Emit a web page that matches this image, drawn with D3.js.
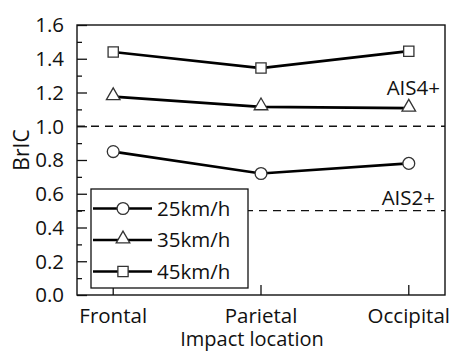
<!DOCTYPE html>
<html>
<head>
<meta charset="utf-8">
<script src="https://cdn.jsdelivr.net/npm/d3@7"></script>
<style>
	body { margin: 0; background: #fff; }
	svg { display: block; font-family: "Open Sans", "Noto Sans", sans-serif; }
</style>
</head>
<body>
<svg width="455" height="352"></svg>
<script>
var locations = ["Frontal", "Parietal", "Occipital"];
var speeds = ["25km/h", "35km/h", "45km/h"];
var bric25 = [0.85, 0.72, 0.78];
var bric35 = [1.175, 1.115, 1.107];
var bric45 = [1.44, 1.345, 1.445];
var yTicks = [0, 0.2, 0.4, 0.6, 0.8, 1.0, 1.2, 1.4, 1.6];
var thresholds = [1.0, 0.5];
var thresholdLabels = ["AIS4+", "AIS2+"];

var series = [
	{ name: speeds[0], values: bric25, symbol: d3.symbolCircle },
	{ name: speeds[1], values: bric35, symbol: d3.symbolTriangle },
	{ name: speeds[2], values: bric45, symbol: d3.symbolSquare }
];

function drawChart() {
	var svg = d3.select("svg"),
		margin = { top: 25, right: 10, bottom: 57, left: 77 },
		width = +svg.attr("width") - margin.left - margin.right,
		height = +svg.attr("height") - margin.top - margin.bottom,
		g = svg.append("g").attr("transform", "translate(" + margin.left + "," + margin.top + ")");

	var x = d3.scalePoint().domain(locations).range([0, width]).padding(0.245);
	var y = d3.scaleLinear().domain([0, 1.6]).range([height, 0]);

	// minor ticks on y
	var yAxisMinor = d3.axisRight(y).tickValues(d3.range(0.1, 1.6, 0.2)).tickSize(5).tickFormat("");
	g.append("g").call(yAxisMinor).call(function (s) { s.select(".domain").remove(); });

	// major y axis, ticks pointing inward
	var yAxis = g.append("g").call(d3.axisRight(y).tickValues(yTicks).tickSize(10).tickFormat(""));
	yAxis.select(".domain").remove();
	g.selectAll(".tick line").attr("stroke", "#111").attr("stroke-width", 1.3);

	g.append("g").selectAll("text")
		.data(yTicks)
		.enter()
		.append("text")
		.attr("x", -13)
		.attr("y", function (d) { return y(d) })
		.attr("dy", "0.36em")
		.attr("text-anchor", "end")
		.attr("font-size", 20.5)
		.attr("fill", "#111")
		.text(d3.format(".1f"));

	// x ticks inward
	g.append("g").selectAll("line")
		.data(locations)
		.enter()
		.append("line")
		.attr("x1", function (d) { return x(d) })
		.attr("x2", function (d) { return x(d) })
		.attr("y1", height)
		.attr("y2", height - 10)
		.attr("stroke", "#111")
		.attr("stroke-width", 1.3);

	g.append("g").selectAll("text")
		.data(locations)
		.enter()
		.append("text")
		.attr("x", function (d) { return x(d) })
		.attr("y", height + 28)
		.attr("text-anchor", "middle")
		.attr("font-size", 20.5)
		.attr("fill", "#111")
		.text(function (d) { return d });

	// axis titles
	g.append("text")
		.attr("x", width / 2 - 9)
		.attr("y", height + 51)
		.attr("text-anchor", "middle")
		.attr("font-size", 20)
		.attr("fill", "#111")
		.text("Impact location");

	g.append("text")
		.attr("transform", "translate(-48," + (height / 2 - 10) + ") rotate(-90)")
		.attr("text-anchor", "middle")
		.attr("font-size", 21)
		.attr("fill", "#111")
		.text("BrIC");

	// threshold lines
	g.append("g").selectAll("line")
		.data(thresholds)
		.enter()
		.append("line")
		.attr("x1", 0)
		.attr("x2", width)
		.attr("y1", function (d) { return y(d) })
		.attr("y2", function (d) { return y(d) })
		.attr("stroke", "#111")
		.attr("stroke-width", 1.4)
		.style("stroke-dasharray", ("8, 6"));

	g.append("g").selectAll("text")
		.data(thresholds)
		.enter()
		.append("text")
		.attr("x", function (d, i) { return i == 0 ? width - 5 : width - 10 })
		.attr("y", function (d, i) { return y(d) - (i == 0 ? 31 : 6) })
		.attr("text-anchor", "end")
		.attr("font-size", 20.5)
		.attr("fill", "#111")
		.text(function (d, i) { return thresholdLabels[i] });

	var line = d3.line()
		.x(function (d, i) { return x(locations[i]) })
		.y(function (d) { return y(d) });

	var sizes = { circle: 110, triangle: 80, square: 105 };
	function symbolSize(sym) {
		if (sym === d3.symbolCircle) return sizes.circle;
		if (sym === d3.symbolTriangle) return sizes.triangle;
		return sizes.square;
	}

	// series lines
	g.append("g").selectAll("path")
		.data(series)
		.enter()
		.append("path")
		.attr("fill", "none")
		.attr("stroke", "#000")
		.attr("stroke-width", 2.7)
		.attr("d", function (d) { return line(d.values) });

	// markers
	series.forEach(function (s) {
		g.append("g").selectAll("path")
			.data(s.values)
			.enter()
			.append("path")
			.attr("d", d3.symbol().type(s.symbol).size(symbolSize(s.symbol)))
			.attr("transform", function (d, i) {
				var dy = s.symbol === d3.symbolTriangle ? -1 : 0;
				return "translate(" + x(locations[i]) + "," + (y(d) + dy) + ")";
			})
			.attr("fill", "#fff")
			.attr("stroke", "#333")
			.attr("stroke-width", 1.3);
	});

	// legend
	var legend = g.append("g").attr("transform", "translate(14,164)");
	legend.append("rect")
		.attr("width", 157)
		.attr("height", 99)
		.attr("fill", "#fff")
		.attr("stroke", "#111")
		.attr("stroke-width", 1.3);

	var rows = legend.selectAll(".row")
		.data(series)
		.enter()
		.append("g")
		.attr("transform", function (d, i) { return "translate(0," + (19.5 + i * 31.5) + ")" });

	rows.append("line")
		.attr("x1", 2)
		.attr("x2", 61)
		.attr("stroke", "#000")
		.attr("stroke-width", 2.7);

	rows.append("path")
		.attr("d", function (d) { return d3.symbol().type(d.symbol).size(symbolSize(d.symbol))() })
		.attr("transform", function (d) { return "translate(32," + (d.symbol === d3.symbolTriangle ? -1 : 0) + ")" })
		.attr("fill", "#fff")
		.attr("stroke", "#333")
		.attr("stroke-width", 1.3);

	rows.append("text")
		.attr("x", 66)
		.attr("dy", "0.36em")
		.attr("font-size", 20.5)
		.attr("fill", "#111")
		.text(function (d) { return d.name });

	// frame
	g.append("rect")
		.attr("width", width)
		.attr("height", height)
		.attr("fill", "none")
		.attr("stroke", "#111")
		.attr("stroke-width", 1.4);
}

drawChart();
</script>
</body>
</html>
